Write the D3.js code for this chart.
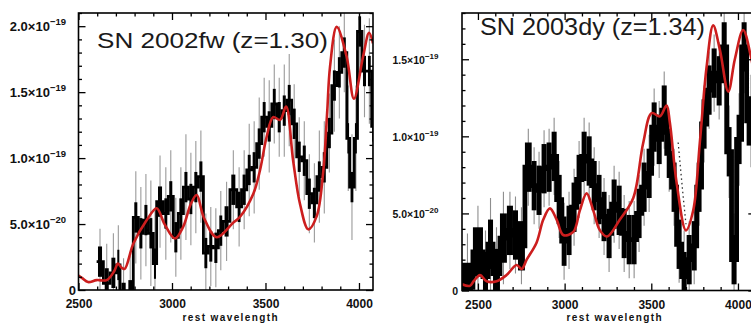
<!DOCTYPE html>
<html>
<head>
<meta charset="utf-8">
<script src="https://cdn.jsdelivr.net/npm/d3@7"></script>
<style>
  html, body { margin: 0; padding: 0; background: #fff; }
  svg { display: block; }
</style>
</head>
<body>
<svg id="chart" width="751" height="324"></svg>
<script>
// Flux values are in units of 1e-20 (erg s^-1 cm^-2 Å^-1); wavelengths in Å (rest frame).

// ---- SN 2002fw (z=1.30) ----
const fwBinStart = [2597, 2633, 2669, 2704, 2722, 2760, 2793, 2820, 2847, 2874,
                    2900, 2918, 2954, 2980, 3007, 3034, 3061, 3088, 3114, 3141,
                    3168, 3194, 3221, 3248, 3274, 3310, 3346, 3372, 3400, 3426,
                    3453, 3480, 3506, 3534, 3560, 3587, 3614, 3640, 3667, 3694,
                    3721, 3748, 3775, 3801, 3828, 3855, 3882, 3908, 3935, 3950,
                    3975, 3992, 4016, 4043, 4068];
const fwBinEnd = 4080;
const fwFlux = [2.15, 0.5, 1.3, 1.9, -0.6, -0.4, 5.5, 4.3, 5.3, 4.3,
                2.0, 6.7, 5.8, 7.1, 4.0, 5.8, 7.8, 6.9, 7.8, 8.6,
                2.8, 3.3, 3.2, 4.5, 5.2, 7.6, 6.3, 7.6, 9.1, 9.3,
                11.1, 13.1, 12.4, 14.1, 13.1, 13.6, 14.4, 12.6, 10.1, 9.8,
                7.3, 6.6, 8.6, 9.3, 11.9, 15.5, 16.5, 18.0, 11.5, 7.8,
                11.5, 19.6, 16.6, 16.6, 12.4];
const fwErr = [2.5, 3.0, 3.0, 3.0, 3.0, 3.0, 3.5, 3.5, 3.5, 4.0,
               4.0, 3.5, 3.5, 3.5, 3.0, 3.5, 4.0, 3.5, 3.5, 3.5,
               3.0, 3.0, 3.0, 3.0, 3.0, 3.0, 3.0, 3.0, 3.5, 3.5,
               3.5, 3.0, 3.5, 3.0, 3.0, 3.5, 3.5, 3.0, 3.0, 3.0,
               3.0, 3.0, 3.5, 3.5, 3.0, 3.5, 3.5, 3.0, 4.0, 4.0,
               4.0, 3.0, 3.5, 4.0, 4.0];
const fwModelWave = [2500, 2520, 2551, 2597, 2651, 2690, 2711, 2730, 2747, 2793,
                     2865, 2918, 2960, 3016, 3060, 3100, 3132, 3170, 3239, 3327,
                     3364, 3435, 3471, 3506, 3541, 3578, 3610, 3648, 3685, 3729,
                     3774, 3809, 3830, 3845, 3881, 3934, 3973, 4022, 4054, 4075];
const fwModelFlux = [1.1, 0.9, 0.6, 0.75, 0.75, 1.4, 2.0, 1.7, 1.6, 3.5,
                     5.3, 6.2, 5.0, 3.9, 4.8, 6.5, 7.2, 5.5, 4.0, 5.1,
                     5.55, 7.3, 9.1, 11.6, 13.1, 12.9, 13.9, 9.8, 6.5, 4.6,
                     5.6, 9.0, 13.5, 16.9, 19.95, 17.7, 14.5, 17.7, 19.5, 18.7];

// ---- SN 2003dy (z=1.34) ----
const dyBinStart = [2408, 2471, 2529, 2558, 2587, 2627, 2667, 2702, 2731, 2771,
                    2810, 2838, 2867, 2896, 2925, 2954, 2983, 3011, 3040, 3069,
                    3098, 3127, 3156, 3185, 3213, 3242, 3271, 3300, 3329, 3358,
                    3387, 3415, 3444, 3473, 3502, 3531, 3560, 3589, 3617, 3646,
                    3675, 3704, 3733, 3762, 3790, 3819, 3848, 3877, 3906, 3935,
                    3963, 3992, 4021, 4050];
const dyBinEnd = 4100;
const dyFlux = [0.2, 2.5, 0.9, 3.0, 1.1, 3.4, 3.9, 3.6, 2.9, 8.0,
                6.8, 6.5, 7.9, 8.0, 8.7, 5.9, 3.2, 3.9, 5.4, 7.2,
                8.7, 8.4, 6.8, 5.9, 4.8, 3.7, 5.6, 5.2, 3.7, 3.3,
                3.3, 5.0, 6.7, 7.6, 10.6, 9.8, 11.7, 8.9, 6.7, 3.0,
                0.9, 2.0, 2.9, 6.7, 10.8, 13.0, 14.1, 13.6, 15.8, 9.0,
                2.0, 9.8, 15.8, 11.0];
const dyErr = [3.5, 3.0, 3.0, 3.0, 3.0, 3.0, 2.5, 2.5, 2.5, 2.5,
               2.5, 2.5, 2.5, 2.5, 2.5, 2.5, 2.5, 2.5, 2.5, 2.5,
               2.5, 2.5, 2.5, 2.5, 2.5, 2.5, 2.5, 2.5, 2.5, 2.5,
               2.5, 2.5, 2.5, 2.5, 2.5, 2.5, 2.5, 2.5, 2.5, 2.5,
               3.0, 2.5, 2.5, 2.5, 2.5, 2.5, 2.5, 2.5, 2.5, 3.0,
               3.0, 3.0, 3.0, 3.0];
const dyModelWave = [2408, 2453, 2475, 2512, 2550, 2608, 2665, 2723, 2752, 2781,
                     2838, 2877, 2915, 2954, 2992, 3050, 3088, 3127, 3165, 3204,
                     3245, 3319, 3396, 3453, 3502, 3550, 3588, 3607, 3646, 3700,
                     3742, 3780, 3819, 3857, 3896, 3944, 3982, 4030, 4074, 4100];
const dyModelFlux = [0.4, 0.3, 0.6, 1.0, 0.6, 0.6, 1.0, 1.65, 1.4, 2.0,
                     3.1, 4.6, 5.33, 4.6, 3.6, 3.8, 5.2, 6.3, 5.2, 3.9,
                     3.5, 4.6, 6.0, 9.55, 11.5, 11.3, 12.0, 10.9, 7.0, 3.9,
                     5.2, 9.6, 14.5, 17.2, 15.6, 12.9, 15.0, 16.9, 15.2, 13.5];
// excised (telluric-affected) stretch shown dotted
const dyDottedWave = [3655, 3668, 3683, 3700];
const dyDottedFlux = [9.6, 8.0, 6.2, 4.3];

// ---- axis ticks ----
const xMajorTicks = [2500, 3000, 3500, 4000];
const xMinorTicks = [2500, 2600, 2700, 2800, 2900, 3000, 3100, 3200, 3300, 3400,
                     3500, 3600, 3700, 3800, 3900, 4000, 4100];
const fwYTicks = [0, 5, 10, 15, 20];
const dyYTicks = [0, 5, 10, 15];
const xAxisTitle = "rest wavelength";

const FONT = "'Liberation Sans', Arial, Helvetica, sans-serif";
const svg = d3.select("#chart");

function splitSci(v) {
  // v in units of 1e-20
  const val = v * 1e-20;
  const e = Math.floor(Math.log10(val) + 1e-9);
  const m = val / Math.pow(10, e);
  return { mant: m.toFixed(1), exp: "−" + String(-e) };
}

const panels = [
  {
    id: "fw", title: "SN 2002fw (z=1.30)",
    binStart: fwBinStart, binEnd: fwBinEnd, flux: fwFlux, err: fwErr,
    modelWave: fwModelWave, modelFlux: fwModelFlux,
    xDomain: [2500, 4075], yDomain: [0, 21], yTicks: fwYTicks,
    left: 78.5, right: 373, top: 13, bottom: 290,
    stepWidth: 2.8, boxFrac: 0.6, boxHalf: 1.15, errColor: "#9a9a9a",
    titleX: 97, titleY: 48, titleSize: 22, titleLen: 231,
    yFont: 13, yExpFont: 9.5, yLabelEnd: 66, zeroEnd: 76,
    xTitleX: 230
  },
  {
    id: "dy", title: "SN 2003dy (z=1.34)",
    binStart: dyBinStart, binEnd: dyBinEnd, flux: dyFlux, err: dyErr,
    modelWave: dyModelWave, modelFlux: dyModelFlux,
    dottedWave: dyDottedWave, dottedFlux: dyDottedFlux,
    xDomain: [2408, 4100], yDomain: [0, 18], yTicks: dyYTicks,
    left: 462, right: 755.3, top: 13, bottom: 290.5,
    stepWidth: 4.8, boxFrac: 1.0, boxHalf: 1.6, errColor: "#8e8e8e",
    titleX: 480, titleY: 35, titleSize: 24, titleLen: 225,
    yFont: 10.5, yExpFont: 8, yLabelEnd: 438.5, zeroEnd: 458,
    xTitleX: 614
  }
];

panels.forEach(p => {
  const x = d3.scaleLinear().domain(p.xDomain).range([p.left, p.right]);
  const y = d3.scaleLinear().domain(p.yDomain).range([p.bottom, p.top]);
  const g = svg.append("g");

  const clipId = "clip-" + p.id;
  svg.append("clipPath").attr("id", clipId).append("rect")
    .attr("x", p.left).attr("y", p.top)
    .attr("width", p.right - p.left).attr("height", p.bottom - p.top);
  const plot = g.append("g").attr("clip-path", `url(#${clipId})`);

  const bins = p.binStart.map((s, i) => ({
    s, e: i < p.binStart.length - 1 ? p.binStart[i + 1] : p.binEnd,
    v: p.flux[i], err: p.err[i]
  }));

  // thin grey error bars
  plot.append("g").selectAll("line").data(bins).join("line")
    .attr("x1", d => x((d.s + d.e) / 2)).attr("x2", d => x((d.s + d.e) / 2))
    .attr("y1", d => y(d.v - d.err)).attr("y2", d => y(d.v + d.err))
    .attr("stroke", p.errColor).attr("stroke-width", 1.1);

  // heavy bin boxes
  plot.append("g").selectAll("rect").data(bins).join("rect")
    .attr("x", d => x((d.s + d.e) / 2) - (x(d.e) - x(d.s)) * p.boxFrac / 2)
    .attr("width", d => (x(d.e) - x(d.s)) * p.boxFrac)
    .attr("y", d => y(d.v + p.boxHalf))
    .attr("height", d => y(d.v - p.boxHalf) - y(d.v + p.boxHalf))
    .attr("fill", "#000");

  // binned spectrum as a histogram
  const stepPts = bins.map(d => [d.s, d.v]).concat([[p.binEnd, bins[bins.length - 1].v]]);
  plot.append("path").datum(stepPts)
    .attr("d", d3.line().x(d => x(d[0])).y(d => y(d[1])).curve(d3.curveStepAfter))
    .attr("fill", "none").attr("stroke", "#000")
    .attr("stroke-width", p.stepWidth).attr("stroke-linejoin", "miter");

  if (p.dottedWave) {
    const pts = p.dottedWave.map((w, i) => [w, p.dottedFlux[i]]);
    plot.append("path").datum(pts)
      .attr("d", d3.line().x(d => x(d[0])).y(d => y(d[1])))
      .attr("fill", "none").attr("stroke", "#333")
      .attr("stroke-width", 1.3).attr("stroke-dasharray", "1.5,3");
  }

  // SN Ia template spectrum
  const modelPts = p.modelWave.map((w, i) => [w, p.modelFlux[i]]);
  plot.append("path").datum(modelPts)
    .attr("d", d3.line().x(d => x(d[0])).y(d => y(d[1])).curve(d3.curveCatmullRom.alpha(0.5)))
    .attr("fill", "none").attr("stroke", "#cc1e1e")
    .attr("stroke-width", 2.6).attr("stroke-linejoin", "round");

  // axes (ticks point inward on all four sides)
  const xMinor = xMinorTicks.filter(t => t >= p.xDomain[0] && t <= p.xDomain[1] && !xMajorTicks.includes(t));
  const yMinor = d3.range(Math.ceil(p.yDomain[0]), Math.floor(p.yDomain[1]) + 1).filter(t => !p.yTicks.includes(t));

  const axes = g.append("g").attr("class", "axes");
  const addAxis = (gen, tx, ty) => {
    const a = axes.append("g").attr("transform", `translate(${tx},${ty})`).call(gen);
    a.select(".domain").remove();
    a.selectAll("line").attr("stroke", "#000").attr("stroke-width", 1.3);
    return a;
  };
  // bottom
  const xb = addAxis(d3.axisBottom(x).tickValues(xMajorTicks).tickSize(-7).tickPadding(0).tickFormat(d3.format("d")), 0, p.bottom);
  xb.selectAll("text")
    .attr("y", 18).attr("dy", null)
    .attr("font-family", FONT).attr("font-size", 12).attr("font-weight", "bold")
    .attr("fill", "#111");
  addAxis(d3.axisBottom(x).tickValues(xMinor).tickSize(-3.5).tickFormat(""), 0, p.bottom);
  // top
  addAxis(d3.axisTop(x).tickValues(xMajorTicks).tickSize(-7).tickFormat(""), 0, p.top);
  addAxis(d3.axisTop(x).tickValues(xMinor).tickSize(-3.5).tickFormat(""), 0, p.top);
  // left
  const yl = addAxis(d3.axisLeft(y).tickValues(p.yTicks).tickSize(-7).tickFormat(""), p.left, 0);
  addAxis(d3.axisLeft(y).tickValues(yMinor).tickSize(-3.5).tickFormat(""), p.left, 0);
  // right
  addAxis(d3.axisRight(y).tickValues(p.yTicks).tickSize(-7).tickFormat(""), p.right, 0);
  addAxis(d3.axisRight(y).tickValues(yMinor).tickSize(-3.5).tickFormat(""), p.right, 0);

  // y tick labels in scientific notation
  yl.selectAll(".tick").each(function (v) {
    const tick = d3.select(this);
    tick.select("text").remove();
    const t = tick.append("text")
      .attr("font-family", FONT).attr("font-weight", "bold")
      .attr("fill", "#111").attr("text-anchor", "end");
    if (v === 0) {
      t.attr("x", p.zeroEnd - p.left).attr("y", p.yFont * 0.36)
        .attr("font-size", p.yFont).text("0");
    } else {
      const s = splitSci(v);
      t.attr("x", p.yLabelEnd - p.left).attr("y", p.yFont * 0.36);
      t.append("tspan").attr("font-size", p.yFont).text(s.mant + "×10");
      t.append("tspan").attr("font-size", p.yExpFont).attr("dy", -p.yFont * 0.48).text(s.exp);
    }
  });

  // frame
  g.append("rect")
    .attr("x", p.left).attr("y", p.top)
    .attr("width", p.right - p.left).attr("height", p.bottom - p.top)
    .attr("fill", "none").attr("stroke", "#000").attr("stroke-width", 1.6);

  // title inside the frame
  g.append("text")
    .attr("x", p.titleX).attr("y", p.titleY)
    .attr("font-family", FONT).attr("font-size", p.titleSize)
    .attr("fill", "#1a1a1a")
    .attr("textLength", p.titleLen).attr("lengthAdjust", "spacingAndGlyphs")
    .text(p.title);

  // x-axis title
  g.append("text")
    .attr("x", p.xTitleX).attr("y", 321)
    .attr("text-anchor", "middle")
    .attr("font-family", FONT).attr("font-size", 10).attr("font-weight", "bold")
    .attr("fill", "#111")
    .attr("textLength", 95).attr("lengthAdjust", "spacing")
    .text(xAxisTitle);
});
</script>
</body>
</html>
